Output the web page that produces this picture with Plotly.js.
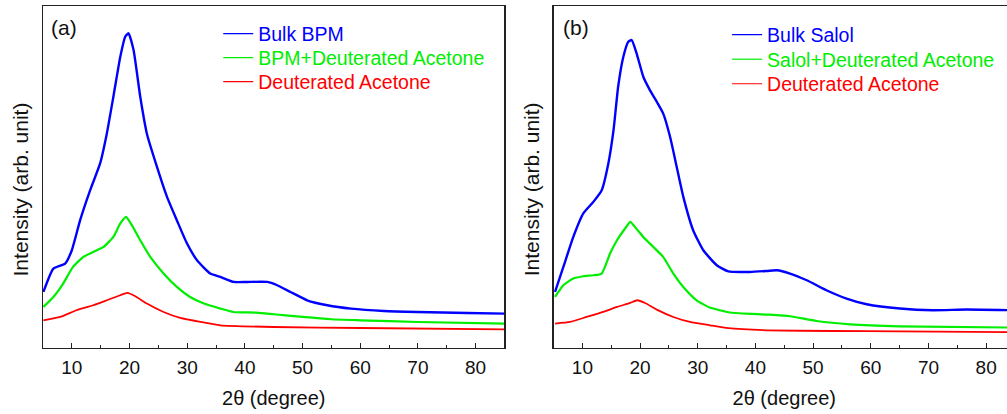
<!DOCTYPE html>
<html>
<head>
<meta charset="utf-8">
<script src="https://cdn.plot.ly/plotly-3.0.1.min.js"></script>
<style>
html,body{margin:0;padding:0;overflow:hidden;background:#fff;}
#chart{width:1020px;height:414px;}
</style>
</head>
<body>
<div id="chart"></div>
<script>
// Panel (a) BPM
const aBulkX = [5.07,6.8,8.84,10.0,11.44,13.18,14.9,16.07,17.2,18.4,19.25,19.83,20.7,21.86,23.0,24.76,26.5,28.2,29.97,31.7,34.0,35.75,38.1,40.4,43.9,45.6,47.9,50.8,54.3,58.4,64.1,69.9,78.6,85];
const aBulkY = [56,79.4,84.4,97.7,127.7,157.7,184.4,214.4,251,291,311,314.4,297.7,251,214.4,181,151,127.7,104.4,87.7,74.4,71,66,66,66,62.7,56,47.7,42.7,39.3,37,36,35,34.3];
const aMixX = [5.07,6.8,8.5,10.2,12.0,13.7,15.5,17.2,18.4,19.4,20.4,21.86,23.6,25.9,28.2,30.5,32.9,35.75,38,42,45,50,55,60,70,85];
const aMixY = [41,51,64.4,81,91,96,101,111,124.4,131,122.7,107.7,91,74.4,61,51,44.4,39.4,36,35.3,33.7,31,28.7,27.7,26,24.3];
const aAceX = [5.07,7.96,10.8,13.7,16.07,18.4,19.6,21.0,23.0,25.9,28.8,32.3,35.75,45,60,85];
const aAceY = [27.7,31,37.7,42.7,47.7,52.7,55,51.7,44.4,36,30,26,22.7,21,20,18.7];
// Panel (b) Salol
const bBulkX = [5.26,6.7,8.43,10.16,11.9,13.35,14.5,15.4,16.2,17.1,17.96,18.55,19.4,20.56,21.7,22.9,24.0,25.2,26.35,27.5,29.2,30.96,33.3,35.3,39.06,42.0,43.7,46.0,48.9,52.3,55.8,59.3,65.05,70.8,76.6,85];
const bBulkY = [56,81,111,134.4,146,157.7,184.4,217.7,261,291,306,307.7,294.4,271,257.7,246,234.4,211,181,151,117.7,97.7,82.7,76.5,76,77,77.7,74.4,67.7,57.7,49.4,43.7,39.4,37.7,38.4,37.7];
const bMixX = [5.26,6.7,8.43,10.16,11.9,13.35,14.8,16.0,17.4,18.3,19.1,20.56,22.3,24.0,25.77,27.5,29.8,32.1,35.6,42.0,46.0,50.6,56.4,65.05,85];
const bMixY = [51,62.7,69.4,71.7,72.7,74.4,94.4,107.7,119.4,126,121,111,101,91,74.4,61,47.7,40.4,35.5,33.4,31.7,27,23.7,21.7,20.4];
const bAceX = [5.26,7.86,10.75,13.6,16.0,18.3,19.5,20.86,22.9,25.77,28.66,32.1,35.3,42.0,53.5,65,85];
const bAceY = [24.4,26,31,36,41,45,47.7,45,38.4,31,26,22.7,19.8,17.7,17,16.7,15.7];

const namesA = ['Bulk BPM','BPM+Deuterated Acetone','Deuterated Acetone'];
const namesB = ['Bulk Salol','Salol+Deuterated Acetone','Deuterated Acetone'];
const colors = ['#0000FF','#00EE00','#FF0000'];
const tickVals = [10,20,30,40,50,60,70,80];

function tr(x,y,c,xa,ya,w){
  return {x:x,y:y,type:'scatter',mode:'lines',xaxis:xa,yaxis:ya,showlegend:false,hoverinfo:'skip',
    line:{color:c,width:w,shape:'spline',smoothing:0.5}};
}
function lg(name,c,xa,ya,legend){
  return {x:[null],y:[null],type:'scatter',mode:'lines',xaxis:xa,yaxis:ya,legend:legend,showlegend:true,
    name:'<span style="color:'+c+'">'+name+'</span>',line:{color:c,width:1.2}};
}
const data = [
  tr(aBulkX,aBulkY,colors[0],'x','y',2.4),
  tr(aMixX,aMixY,colors[1],'x','y',2.2),
  tr(aAceX,aAceY,colors[2],'x','y',1.8),
  tr(bBulkX,bBulkY,colors[0],'x2','y2',2.4),
  tr(bMixX,bMixY,colors[1],'x2','y2',2.2),
  tr(bAceX,bAceY,colors[2],'x2','y2',1.8)
];
const legIds = ['legend','legend2','legend3','legend4','legend5','legend6'];
for (let i=0;i<3;i++) data.push(lg(namesA[i],colors[i],'x','y',legIds[i]));
for (let i=0;i<3;i++) data.push(lg(namesB[i],colors[i],'x2','y2',legIds[i+3]));

const F = 'Arial, "Liberation Sans", sans-serif';
function xax(dom,anchor){
  return {domain:dom,anchor:anchor,range:[5,85],tickvals:tickVals,ticks:'inside',ticklen:5,
    tickcolor:'#222',tickwidth:1,showgrid:false,zeroline:false,showline:true,linecolor:'#222',linewidth:1.2,
    mirror:true,tickfont:{family:F,size:19,color:'#111'},ticklabelstandoff:2,
    minor:{dtick:5,ticks:'inside',ticklen:3,tickcolor:'#222',showgrid:false},
    title:{text:'2θ (degree)',font:{family:F,size:20,color:'#111'},standoff:14}};
}
function yax(anchor){
  return {anchor:anchor,domain:[0,1],range:[0,341.7],showticklabels:false,ticks:'',showgrid:false,
    zeroline:false,showline:true,linecolor:'#222',linewidth:1.2,mirror:true};
}
const W = 1020, L = 42.7, R = 5, PW = W-L-R, PH = 341.7, BOT = 347.7;
const legFont = {family:F,size:19.5};
function leg(xpx,rowCenter){
  return {x:(xpx-L)/PW,y:(BOT-(rowCenter-19.5))/PH,xanchor:'left',yanchor:'top',bgcolor:'rgba(0,0,0,0)',
    font:legFont,tracegroupgap:0,itemwidth:30};
}
const layout = {
  width:W,height:414,
  margin:{l:L,r:R,t:6,b:66.3},
  paper_bgcolor:'#fff',plot_bgcolor:'#fff',
  showlegend:true,
  xaxis:xax([0,(504.3-L)/PW],'y'),
  yaxis:yax('x'),
  xaxis2:xax([(553.4-L)/PW,1],'y2'),
  yaxis2:yax('x2'),
  legend:leg(218,34), legend2:leg(218,58), legend3:leg(218,82),
  legend4:leg(727,35), legend5:leg(727,59.5), legend6:leg(727,84),
  annotations:[
    {text:'(a)',xref:'x domain',yref:'y domain',x:0.014,y:(BOT-27)/PH,xanchor:'left',yanchor:'middle',showarrow:false,font:{family:F,size:21,color:'#111'}},
    {text:'(b)',xref:'x2 domain',yref:'y2 domain',x:0.017,y:(BOT-27)/PH,xanchor:'left',yanchor:'middle',showarrow:false,font:{family:F,size:21,color:'#111'}},
    {text:'Intensity (arb. unit)',xref:'paper',yref:'paper',x:(20-L)/PW,y:(BOT-189)/PH,textangle:-90,xanchor:'center',yanchor:'middle',showarrow:false,font:{family:F,size:21,color:'#111'}},
    {text:'Intensity (arb. unit)',xref:'paper',yref:'paper',x:(531-L)/PW,y:(BOT-189)/PH,textangle:-90,xanchor:'center',yanchor:'middle',showarrow:false,font:{family:F,size:21,color:'#111'}}
  ]
};
Plotly.newPlot('chart',data,layout,{displayModeBar:false,staticPlot:true});
</script>
</body>
</html>
